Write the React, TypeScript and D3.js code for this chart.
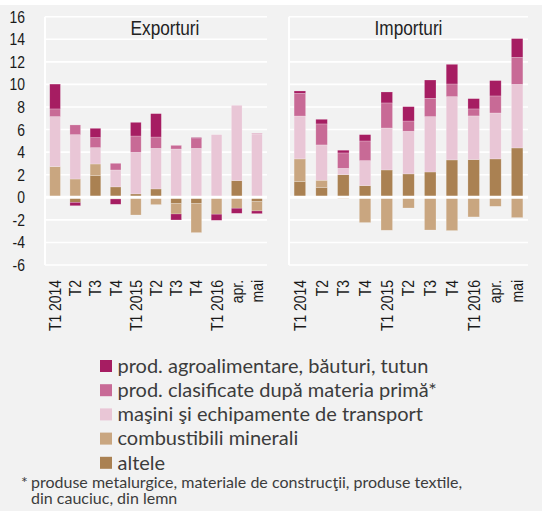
import React from 'react';
import * as d3 from 'd3';

// categories (duplicate quarter names, so bars are keyed by index)
const categories = ['T1 2014', 'T2', 'T3', 'T4', 'T1 2015', 'T2', 'T3', 'T4', 'T1 2016', 'apr.', 'mai'];

const seriesKeys = ['altele', 'combustibili', 'masini', 'clasificate', 'agro'];

const legendLabels: Record<string, string> = {
  agro: 'prod. agroalimentare, băuturi, tutun',
  clasificate: 'prod. clasificate după materia primă*',
  masini: 'maşini şi echipamente de transport',
  combustibili: 'combustibili minerali',
  altele: 'altele',
};

const colors: Record<string, string> = {
  agro: '#a61d62',
  clasificate: '#c86a96',
  masini: '#e9c6d6',
  combustibili: '#c9a680',
  altele: '#aa8152',
};

// Exporturi
const expAltele = [0, -0.45, 1.92, 0.92, 0.3, 0.74, -0.56, -0.56, 0, 1.48, -0.39];
const expCombustibili = [2.72, 1.62, 1.03, -0.15, -1.57, -0.65, -0.92, -2.57, -1.5, -0.97, -0.82];
const expMasini = [4.43, 3.93, 1.45, 1.5, 3.69, 3.6, 4.28, 4.34, 5.55, 6.67, 5.61];
const expClasificate = [0.68, 0.86, 0.89, 0.59, 1.44, 1.0, 0.32, 0.86, 0, 0, 0.05];
const expAgro = [2.2, -0.3, 0.82, -0.47, 1.21, 2.07, -0.53, 0.09, -0.54, -0.45, -0.24];

// Importuri
const impAltele = [1.39, 0.86, 2.0, 1.03, 2.42, 2.07, 2.24, 3.31, 3.34, 3.4, 4.37];
const impCombustibili = [2.01, 0.65, -0.15, -2.24, -2.92, -0.95, -2.9, -2.95, -1.74, -0.8, -1.8];
const impMasini = [3.8, 3.13, 0.57, 2.22, 3.72, 3.78, 4.91, 5.61, 3.87, 4.07, 5.64];
const impClasificate = [2.01, 1.86, 1.36, 1.74, 2.22, 0.91, 1.62, 1.12, 0.62, 1.51, 2.39];
const impAgro = [0.21, 0.41, 0.24, 0.56, 0.97, 1.27, 1.62, 1.74, 0.91, 1.36, 1.66];

const yTicks = [16, 14, 12, 10, 8, 6, 4, 2, 0, -2, -4, -6];

const footnote1 = 'produse metalurgice, materiale de construcţii, produse textile,';
const footnote2 = 'din cauciuc, din lemn';

const W = 542;
const H = 511;
// no narrow font installed: Liberation Sans squeezed horizontally to Arial Narrow proportions
const narrow = '"Liberation Sans", Arial, sans-serif';
const squeeze = 0.82;
const sans = 'Lato, "Noto Sans", sans-serif';

const y = d3.scaleLinear().domain([-6, 16]).range([265, 16.7]);

const buildRows = (a: number[], c: number[], m: number[], cl: number[], ag: number[]) =>
  categories.map((_, i) => ({
    altele: a[i],
    combustibili: c[i],
    masini: m[i],
    clasificate: cl[i],
    agro: ag[i],
  }));

const stack = d3
  .stack<any>()
  .keys(seriesKeys)
  .offset(d3.stackOffsetDiverging);

interface PanelProps {
  title: string;
  titleX: number;
  x0: number;
  x1: number;
  rows: any[];
}

const Panel: React.FC<PanelProps> = ({ title, titleX, x0, x1, rows }) => {
  const x = d3
    .scaleBand<number>()
    .domain(categories.map((_, i) => i))
    .range([x0, x1])
    .paddingInner(0.47)
    .paddingOuter(0.235);
  const layers = stack(rows);

  return (
    <g>
      {/* grid */}
      {yTicks.map((t) => (
        <line key={t} x1={x0} x2={x1} y1={y(t)} y2={y(t)} stroke="#fff" strokeWidth={1.6} />
      ))}
      <line x1={x0} x2={x0} y1={y(16)} y2={y(-6)} stroke="#fff" strokeWidth={2} />
      <text
        transform={`translate(${titleX},35) scale(${squeeze},1)`}
        textAnchor="middle"
        fontFamily={narrow}
        fontSize={21}
        fill="#222"
      >
        {title}
      </text>
      {/* bars */}
      {layers.map((layer) => (
        <g key={layer.key} fill={colors[layer.key]}>
          {layer.map((d, i) => {
            const top = y(Math.max(d[0], d[1]));
            const h = Math.abs(y(d[0]) - y(d[1]));
            if (h < 0.01) return null;
            return <rect key={i} x={x(i)} y={top} width={x.bandwidth()} height={h} stroke="#fff" strokeOpacity={0.35} strokeWidth={0.6} />;
          })}
        </g>
      ))}
      <line x1={x0} x2={x1} y1={y(0)} y2={y(0)} stroke="#fff" strokeWidth={3} />
      {/* x labels */}
      {categories.map((c, i) => {
        const cx = (x(i) as number) + x.bandwidth() / 2;
        return (
          <text
            key={i}
            transform={`translate(${cx},280) rotate(-90) scale(${squeeze},1)`}
            dy="0.35em"
            textAnchor="end"
            fontFamily={narrow}
            fontSize={17}
            fill="#1a1a1a"
          >
            {c}
          </text>
        );
      })}
    </g>
  );
};

const legendOrder = ['agro', 'clasificate', 'masini', 'combustibili', 'altele'];

export default function App() {
  const expRows = buildRows(expAltele, expCombustibili, expMasini, expClasificate, expAgro);
  const impRows = buildRows(impAltele, impCombustibili, impMasini, impClasificate, impAgro);

  return (
    <svg width={W} height={H} style={{ position: 'absolute', left: 0, top: 0, display: 'block' }}>
      <rect width={W} height={H} fill="#f2f2f2" />
      <rect width={W} height={5} fill="#fff" />
      {yTicks.map((t) => (
        <text
          key={t}
          transform={`translate(25,${y(t)}) scale(${squeeze},1)`}
          dy="0.35em"
          textAnchor="end"
          fontFamily={narrow}
          fontSize={17}
          fill="#1a1a1a"
        >
          {t}
        </text>
      ))}
      <Panel title="Exporturi" titleX={165} x0={45} x1={267} rows={expRows} />
      <Panel title="Importuri" titleX={408.5} x0={289} x1={528} rows={impRows} />
      {/* legend */}
      {legendOrder.map((k, i) => (
        <g key={k} transform={`translate(100,${360 + i * 24.2})`}>
          <rect width={12} height={12} fill={colors[k]} />
          <text x={17.5} y={12.8} fontFamily={sans} fontSize={20} fill="#3c3c3c">
            {legendLabels[k]}
          </text>
        </g>
      ))}
      <text fontFamily={sans} fontSize={16} fill="#3c3c3c">
        <tspan x={21} y={487.5}>*</tspan>
        <tspan x={31} y={487.5}>{footnote1}</tspan>
        <tspan x={31} y={504}>{footnote2}</tspan>
      </text>
    </svg>
  );
}
